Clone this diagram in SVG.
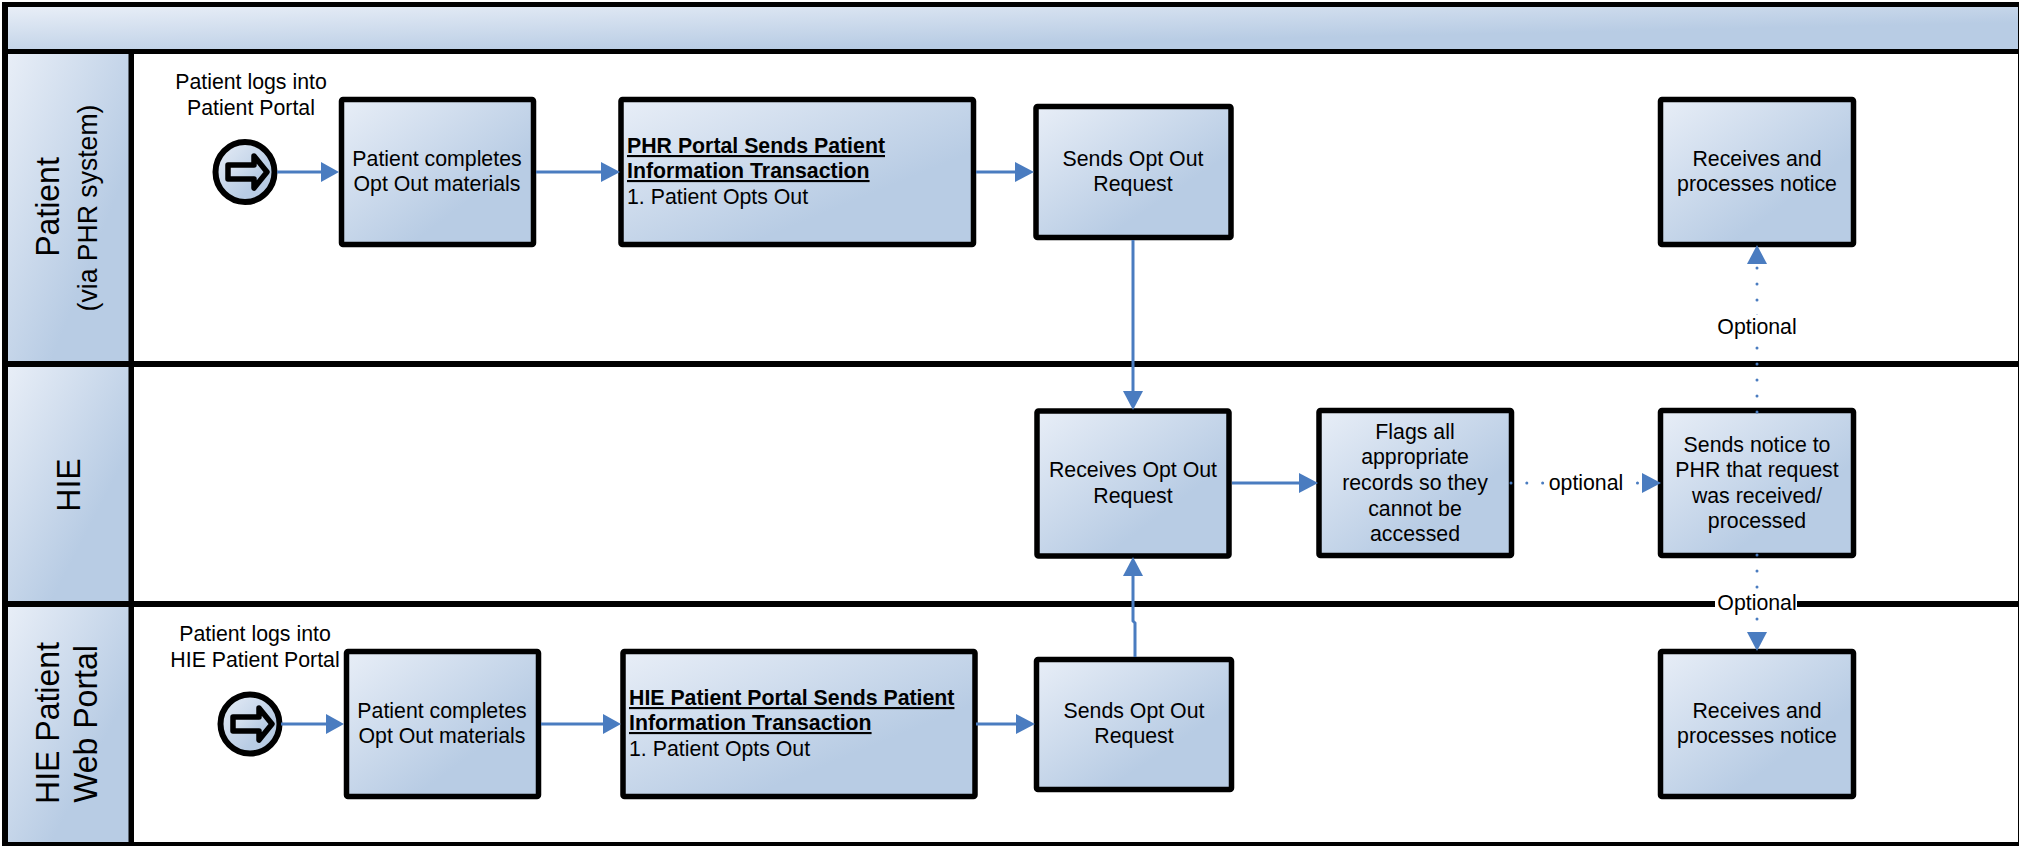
<svg xmlns="http://www.w3.org/2000/svg" width="2019" height="846" viewBox="0 0 2019 846">
<style>
text{font-family:"Liberation Sans",Arial,sans-serif;fill:#000}
.t{font-size:21.3px;text-anchor:middle}
.l{font-size:21.3px}
.b{font-weight:bold;text-decoration:underline}
.h1{font-size:32px;text-anchor:middle}
.h2{font-size:26.6px;text-anchor:middle}
.box{fill:url(#g);stroke:#000;stroke-width:5.5}
.bar{fill:#000}
.c{fill:none;stroke:#4a7cc0;stroke-width:3}
.d{fill:none;stroke:#4a7cc0;stroke-width:3;stroke-linecap:round;stroke-dasharray:0.01 15.8}
.d2{fill:none;stroke:#4a7cc0;stroke-width:3;stroke-linecap:round;stroke-dasharray:0.01 16}
.a{fill:#4a7cc0}
.w{fill:#fff}
</style>
<defs>
<linearGradient id="g" x1="0" y1="0" x2="1" y2="1">
<stop offset="0" stop-color="#e8eef7"/><stop offset="0.68" stop-color="#b8cce4"/><stop offset="1" stop-color="#b8cce4"/>
</linearGradient>
</defs>
<rect width="2019" height="846" fill="#fff"/>
<g id="frame">
<rect x="6" y="7" width="2013" height="43" fill="url(#g)"/>
<rect x="8" y="54" width="121" height="307" fill="url(#g)"/>
<rect x="8" y="367" width="121" height="234" fill="url(#g)"/>
<rect x="8" y="607" width="121" height="235" fill="url(#g)"/>
<rect class="bar" x="2" y="2" width="2017" height="5"/>
<rect class="bar" x="2" y="49" width="2017" height="5"/>
<rect class="bar" x="2" y="361" width="2017" height="6"/>
<rect class="bar" x="2" y="601" width="2017" height="6"/>
<rect class="bar" x="2" y="842" width="2017" height="4"/>
<rect class="bar" x="2" y="2" width="6" height="844"/>
<rect class="bar" x="128.5" y="54" width="5.5" height="792"/>
<rect class="bar" x="2018" y="2" width="1" height="844"/>
</g>
<g id="lane-patient">
<text class="h1" transform="translate(59 207) rotate(-90) scale(1 1.06)">Patient</text>
<text class="h2" transform="translate(97 208) rotate(-90) scale(1 1.06)">(via PHR system)</text>
</g>
<g id="lane-hie">
<text class="h1" transform="translate(80 485) rotate(-90) scale(1 1.06)">HIE</text>
</g>
<g id="lane-portal">
<text class="h1" transform="translate(59 723) rotate(-90) scale(1 1.06)">HIE Patient</text>
<text class="h1" transform="translate(97 724) rotate(-90) scale(1 1.06)">Web Portal</text>
</g>

<g id="start1">
<ellipse cx="245" cy="172" rx="29.5" ry="30" fill="url(#g)" stroke="#000" stroke-width="6"/>
<path d="M228 165H254V156L267 172L254 188V179H228Z" fill="url(#g)" stroke="#000" stroke-width="5.5" stroke-linejoin="round"/>
</g>
<g id="start1-label">
<text class="t" x="251" y="89">Patient logs into</text>
<text class="t" x="251" y="115">Patient Portal</text>
</g>
<g id="n1"><rect class="box" x="341.5" y="99.5" width="192" height="145" rx="1.5"/>
<text class="t" x="437" y="166">Patient completes</text><text class="t" x="437" y="191">Opt Out materials</text></g>
<g id="n2"><rect class="box" x="621" y="99.5" width="352.5" height="145" rx="1.5"/>
<text class="l b" x="627" y="153">PHR Portal Sends Patient</text><text class="l b" x="627" y="178">Information Transaction</text><text class="l" x="627" y="204">1. Patient Opts Out</text></g>
<g id="n3"><rect class="box" x="1036" y="106.5" width="195" height="131" rx="1.5"/>
<text class="t" x="1133" y="166">Sends Opt Out</text><text class="t" x="1133" y="191">Request</text></g>
<g id="n4"><rect class="box" x="1660.5" y="99.5" width="193" height="145" rx="1.5"/>
<text class="t" x="1757" y="166">Receives and</text><text class="t" x="1757" y="191">processes notice</text></g>
<g id="n5"><rect class="box" x="1037" y="411" width="192" height="145" rx="1.5"/>
<text class="t" x="1133" y="477">Receives Opt Out</text><text class="t" x="1133" y="503">Request</text></g>
<g id="n6"><rect class="box" x="1319" y="410.5" width="192.5" height="145" rx="1.5"/>
<text class="t" x="1415" y="439">Flags all</text><text class="t" x="1415" y="464">appropriate</text><text class="t" x="1415" y="490">records so they</text><text class="t" x="1415" y="516">cannot be</text><text class="t" x="1415" y="541">accessed</text></g>
<g id="n7"><rect class="box" x="1660.5" y="410.5" width="193" height="145" rx="1.5"/>
<text class="t" x="1757" y="452">Sends notice to</text><text class="t" x="1757" y="477">PHR that request</text><text class="t" x="1757" y="503">was received/</text><text class="t" x="1757" y="528">processed</text></g>
<g id="start2">
<ellipse cx="250" cy="724" rx="29.5" ry="29.5" fill="url(#g)" stroke="#000" stroke-width="6"/>
<path d="M233 717H259V708L272 724L259 740V731H233Z" fill="url(#g)" stroke="#000" stroke-width="5.5" stroke-linejoin="round"/>
</g>
<g id="start2-label">
<text class="t" x="255" y="641">Patient logs into</text>
<text class="t" x="255" y="667">HIE Patient Portal</text>
</g>
<g id="n8"><rect class="box" x="346.5" y="651.5" width="192" height="145" rx="1.5"/>
<text class="t" x="442" y="718">Patient completes</text><text class="t" x="442" y="743">Opt Out materials</text></g>
<g id="n9"><rect class="box" x="623" y="651.5" width="352" height="145" rx="1.5"/>
<text class="l b" x="629" y="705">HIE Patient Portal Sends Patient</text><text class="l b" x="629" y="730">Information Transaction</text><text class="l" x="629" y="756">1. Patient Opts Out</text></g>
<g id="n10"><rect class="box" x="1036.5" y="659.5" width="195" height="130" rx="1.5"/>
<text class="t" x="1134" y="718">Sends Opt Out</text><text class="t" x="1134" y="743">Request</text></g>
<g id="n11"><rect class="box" x="1660.5" y="651.5" width="193" height="145" rx="1.5"/>
<text class="t" x="1757" y="718">Receives and</text><text class="t" x="1757" y="743">processes notice</text></g>

<g id="connectors">
<path class="c" d="M277 172H322"/><path class="a" d="M321 162L339 172L321 182Z"/>
<path class="c" d="M536 172H602"/><path class="a" d="M601 162L620 172L601 182Z"/>
<path class="c" d="M976 172H1016"/><path class="a" d="M1015 162L1034 172L1015 182Z"/>
<path class="c" d="M1133 240V392"/><path class="a" d="M1123 391L1133 410L1143 391Z"/>
<path class="c" d="M1232 483H1300"/><path class="a" d="M1299 473L1318 483L1299 493Z"/>
<path class="c" d="M1135 657V623L1133 621V575"/><path class="a" d="M1123 576L1133 557L1143 576Z"/>
<path class="c" d="M281 724H327"/><path class="a" d="M326 714L344 724L326 734Z"/>
<path class="c" d="M541 724H604"/><path class="a" d="M603 714L621 724L603 734Z"/>
<path class="c" d="M976 724H1017"/><path class="a" d="M1016 714L1035 724L1016 734Z"/>
<path class="d" d="M1511 483H1642"/><path class="a" d="M1642 473L1661 483L1642 493Z"/>
<path class="d2" d="M1757 412V265"/><path class="a" d="M1747 264L1757 245L1767 264Z"/>
<path class="d2" d="M1757 555V630"/><path class="a" d="M1747 632L1757 651L1767 632Z"/>
</g>
<g id="connector-labels">
<rect class="w" x="1547" y="470" width="77" height="27"/><text class="t" x="1586" y="490">optional</text>
<rect class="w" x="1716" y="315" width="82" height="30"/><text class="t" x="1757" y="334">Optional</text>
<rect class="w" x="1715" y="589" width="82" height="28"/><text class="t" x="1757" y="610">Optional</text>
</g>
</svg>
